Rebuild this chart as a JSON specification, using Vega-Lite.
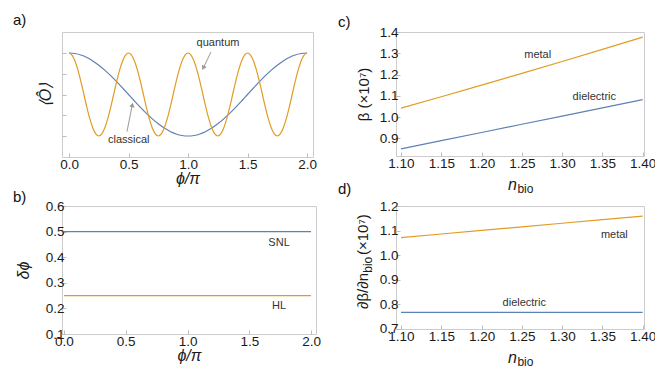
{
  "$schema": "https://vega.github.io/schema/vega-lite/v6.json",
  "background": "white",
  "padding": {"left": 12, "top": 12, "right": 0, "bottom": 0},
  "autosize": {"type": "pad"},
  "columns": 2,
  "bounds": "flush",
  "align": "all",
  "spacing": {"row": 46, "column": 80},
  "datasets": {
    "aq": [{"x":0,"y":1},{"x":0.025,"y":0.9511},{"x":0.05,"y":0.809},{"x":0.075,"y":0.5878},{"x":0.1,"y":0.309},{"x":0.125,"y":0},{"x":0.15,"y":-0.309},{"x":0.175,"y":-0.5878},{"x":0.2,"y":-0.809},{"x":0.225,"y":-0.9511},{"x":0.25,"y":-1},{"x":0.275,"y":-0.9511},{"x":0.3,"y":-0.809},{"x":0.325,"y":-0.5878},{"x":0.35,"y":-0.309},{"x":0.375,"y":0},{"x":0.4,"y":0.309},{"x":0.425,"y":0.5878},{"x":0.45,"y":0.809},{"x":0.475,"y":0.9511},
      {"x":0.5,"y":1},{"x":0.525,"y":0.9511},{"x":0.55,"y":0.809},{"x":0.575,"y":0.5878},{"x":0.6,"y":0.309},{"x":0.625,"y":0},{"x":0.65,"y":-0.309},{"x":0.675,"y":-0.5878},{"x":0.7,"y":-0.809},{"x":0.725,"y":-0.9511},{"x":0.75,"y":-1},{"x":0.775,"y":-0.9511},{"x":0.8,"y":-0.809},{"x":0.825,"y":-0.5878},{"x":0.85,"y":-0.309},{"x":0.875,"y":0},{"x":0.9,"y":0.309},{"x":0.925,"y":0.5878},{"x":0.95,"y":0.809},{"x":0.975,"y":0.9511},
      {"x":1,"y":1},{"x":1.025,"y":0.9511},{"x":1.05,"y":0.809},{"x":1.075,"y":0.5878},{"x":1.1,"y":0.309},{"x":1.125,"y":0},{"x":1.15,"y":-0.309},{"x":1.175,"y":-0.5878},{"x":1.2,"y":-0.809},{"x":1.225,"y":-0.9511},{"x":1.25,"y":-1},{"x":1.275,"y":-0.9511},{"x":1.3,"y":-0.809},{"x":1.325,"y":-0.5878},{"x":1.35,"y":-0.309},{"x":1.375,"y":0},{"x":1.4,"y":0.309},{"x":1.425,"y":0.5878},{"x":1.45,"y":0.809},{"x":1.475,"y":0.9511},
      {"x":1.5,"y":1},{"x":1.525,"y":0.9511},{"x":1.55,"y":0.809},{"x":1.575,"y":0.5878},{"x":1.6,"y":0.309},{"x":1.625,"y":0},{"x":1.65,"y":-0.309},{"x":1.675,"y":-0.5878},{"x":1.7,"y":-0.809},{"x":1.725,"y":-0.9511},{"x":1.75,"y":-1},{"x":1.775,"y":-0.9511},{"x":1.8,"y":-0.809},{"x":1.825,"y":-0.5878},{"x":1.85,"y":-0.309},{"x":1.875,"y":0},{"x":1.9,"y":0.309},{"x":1.925,"y":0.5878},{"x":1.95,"y":0.809},{"x":1.975,"y":0.9511},{"x":2,"y":1}],
    "ac": [{"x":0,"y":1},{"x":0.05,"y":0.9877},{"x":0.1,"y":0.9511},{"x":0.15,"y":0.891},{"x":0.2,"y":0.809},{"x":0.25,"y":0.7071},{"x":0.3,"y":0.5878},{"x":0.35,"y":0.454},{"x":0.4,"y":0.309},{"x":0.45,"y":0.1564},{"x":0.5,"y":0},{"x":0.55,"y":-0.1564},{"x":0.6,"y":-0.309},{"x":0.65,"y":-0.454},{"x":0.7,"y":-0.5878},{"x":0.75,"y":-0.7071},{"x":0.8,"y":-0.809},{"x":0.85,"y":-0.891},{"x":0.9,"y":-0.9511},{"x":0.95,"y":-0.9877},{"x":1,"y":-1},{"x":1.05,"y":-0.9877},{"x":1.1,"y":-0.9511},{"x":1.15,"y":-0.891},{"x":1.2,"y":-0.809},{"x":1.25,"y":-0.7071},{"x":1.3,"y":-0.5878},{"x":1.35,"y":-0.454},{"x":1.4,"y":-0.309},{"x":1.45,"y":-0.1564},{"x":1.5,"y":0},{"x":1.55,"y":0.1564},{"x":1.6,"y":0.309},{"x":1.65,"y":0.454},{"x":1.7,"y":0.5878},{"x":1.75,"y":0.7071},{"x":1.8,"y":0.809},{"x":1.85,"y":0.891},{"x":1.9,"y":0.9511},{"x":1.95,"y":0.9877},{"x":2,"y":1}],
    "b": [{"x":0,"y":0.5,"series":"SNL"},{"x":2,"y":0.5,"series":"SNL"},{"x":0,"y":0.25,"series":"HL"},{"x":2,"y":0.25,"series":"HL"}],
    "c": [{"x":1.10,"y":0.850,"material":"dielectric"},{"x":1.15,"y":0.8888,"material":"dielectric"},{"x":1.20,"y":0.9275,"material":"dielectric"},{"x":1.25,"y":0.9663,"material":"dielectric"},{"x":1.30,"y":1.005,"material":"dielectric"},{"x":1.35,"y":1.0438,"material":"dielectric"},{"x":1.40,"y":1.0825,"material":"dielectric"},
      {"x":1.10,"y":1.042,"material":"metal"},{"x":1.15,"y":1.096,"material":"metal"},{"x":1.20,"y":1.1507,"material":"metal"},{"x":1.25,"y":1.2061,"material":"metal"},{"x":1.30,"y":1.2623,"material":"metal"},{"x":1.35,"y":1.3193,"material":"metal"},{"x":1.40,"y":1.3769,"material":"metal"}],
    "d": [{"x":1.10,"y":0.766,"material":"dielectric"},{"x":1.40,"y":0.766,"material":"dielectric"},
      {"x":1.10,"y":1.071,"material":"metal"},{"x":1.15,"y":1.0857,"material":"metal"},{"x":1.20,"y":1.1003,"material":"metal"},{"x":1.25,"y":1.115,"material":"metal"},{"x":1.30,"y":1.1297,"material":"metal"},{"x":1.35,"y":1.1443,"material":"metal"},{"x":1.40,"y":1.159,"material":"metal"}]
  },
  "concat": [
    {
      "width": 251, "height": 125,
      "title": {"text": "a)", "anchor": "start", "frame": "group", "baseline": "bottom", "dx": -49, "offset": -11},
      "layer": [
        {"data": {"name": "ac"}, "mark": {"type": "line", "color": "#5E81B5", "strokeWidth": 1.2, "interpolate": "monotone"},
         "encoding": {
           "x": {"field": "x", "type": "quantitative", "scale": {"domain": [-0.059, 2.05], "nice": false, "zero": false},
                 "axis": {"values": [0, 0.5, 1, 1.5, 2], "tickCount": 20, "format": ".1f", "title": "ϕ/π", "titleFontStyle": "italic", "titleFontSize": 16, "labelPadding": 4, "titlePadding": 0}},
           "y": {"field": "y", "type": "quantitative", "scale": {"domain": [-1.506, 1.506], "nice": false, "zero": false},
                 "axis": {"values": [-1, -0.5, 0, 0.5, 1], "tickCount": 20, "labels": false, "title": "⟨Ô⟩", "titleFontStyle": "italic", "titleFontSize": 16, "titlePadding": 8}}
         }},
        {"data": {"name": "aq"}, "mark": {"type": "line", "color": "#E19C24", "strokeWidth": 1.2, "interpolate": "monotone"},
         "encoding": {"x": {"field": "x", "type": "quantitative"}, "y": {"field": "y", "type": "quantitative"}}},
        {"mark": {"type": "rule", "color": "#9a9a9a", "strokeWidth": 1.2},
         "encoding": {"y": {"datum": 0, "type": "quantitative"}}},
        {"data": {"values": [{"x": 1.193, "y": 1.024, "x2": 1.135, "y2": 0.68}, {"x": 0.487, "y": -0.896, "x2": 0.528, "y2": -0.3}]},
         "mark": {"type": "rule", "color": "#999999", "strokeWidth": 1},
         "encoding": {"x": {"field": "x", "type": "quantitative"}, "y": {"field": "y", "type": "quantitative"}, "x2": {"field": "x2"}, "y2": {"field": "y2"}}},
        {"data": {"values": [{"x": 1.128, "y": 0.64}]},
         "mark": {"type": "point", "shape": "triangle-up", "filled": true, "color": "#999999", "opacity": 1, "size": 28, "angle": 206},
         "encoding": {"x": {"field": "x", "type": "quantitative"}, "y": {"field": "y", "type": "quantitative"}}},
        {"data": {"values": [{"x": 0.532, "y": -0.25}]},
         "mark": {"type": "point", "shape": "triangle-up", "filled": true, "color": "#999999", "opacity": 1, "size": 28, "angle": 11},
         "encoding": {"x": {"field": "x", "type": "quantitative"}, "y": {"field": "y", "type": "quantitative"}}},
        {"data": {"values": [{"x": 1.252, "y": 1.241, "label": "quantum"}, {"x": 0.502, "y": -1.096, "label": "classical"}]},
         "mark": {"type": "text", "fontSize": 11, "color": "#333333", "baseline": "middle"},
         "encoding": {"x": {"field": "x", "type": "quantitative"}, "y": {"field": "y", "type": "quantitative"}, "text": {"field": "label"}}}
      ]
    },
    {
      "width": 248, "height": 124,
      "title": {"text": "c)", "anchor": "start", "frame": "group", "baseline": "bottom", "dx": -58, "offset": -20},
      "layer": [
        {"data": {"name": "c"}, "mark": {"type": "line", "strokeWidth": 1.2},
         "encoding": {
           "x": {"field": "x", "type": "quantitative", "scale": {"domain": [1.0938, 1.4016], "nice": false, "zero": false},
                 "axis": {"values": [1.1, 1.15, 1.2, 1.25, 1.3, 1.35, 1.4], "tickCount": 20, "format": ".2f", "title": null, "labelPadding": 4}},
           "y": {"field": "y", "type": "quantitative", "scale": {"domain": [0.8165, 1.4014], "nice": false, "zero": false},
                 "axis": {"values": [0.9, 1.0, 1.1, 1.2, 1.3, 1.4], "tickCount": 20, "format": ".1f", "title": "β (×10⁷)", "titleFontSize": 15, "titlePadding": 8, "labelPadding": 2}},
           "color": {"field": "material", "type": "nominal", "scale": {"domain": ["dielectric", "metal"], "range": ["#5E81B5", "#E19C24"]}, "legend": null}
         }},
        {"data": {"values": [{"x": 1.2697, "y": 1.2929, "label": "metal"}, {"x": 1.3399, "y": 1.0934, "label": "dielectric"}]},
         "mark": {"type": "text", "fontSize": 11, "color": "#333333", "baseline": "middle"},
         "encoding": {"x": {"field": "x", "type": "quantitative"}, "y": {"field": "y", "type": "quantitative"}, "text": {"field": "label"}}},
        {"data": {"values": [{"x": 1.244, "y": 0.6797, "label": "n"}]},
         "mark": {"type": "text", "fontSize": 16, "fontStyle": "italic", "color": "#1a1a1a", "align": "right", "baseline": "middle"},
         "encoding": {"x": {"field": "x", "type": "quantitative"}, "y": {"field": "y", "type": "quantitative"}, "text": {"field": "label"}}},
        {"data": {"values": [{"x": 1.2445, "y": 0.6608, "label": "bio"}]},
         "mark": {"type": "text", "fontSize": 12, "color": "#1a1a1a", "align": "left", "baseline": "middle"},
         "encoding": {"x": {"field": "x", "type": "quantitative"}, "y": {"field": "y", "type": "quantitative"}, "text": {"field": "label"}}}
      ]
    },
    {
      "width": 254, "height": 128,
      "title": {"text": "b)", "anchor": "start", "frame": "group", "baseline": "bottom", "dx": -49, "offset": -20.5},
      "layer": [
        {"data": {"name": "b"}, "mark": {"type": "line", "strokeWidth": 1.2},
         "encoding": {
           "x": {"field": "x", "type": "quantitative", "scale": {"domain": [-0.016, 2.04], "nice": false, "zero": false},
                 "axis": {"values": [0, 0.5, 1, 1.5, 2], "tickCount": 20, "format": ".1f", "title": "ϕ/π", "titleFontStyle": "italic", "titleFontSize": 16, "labelPadding": 4, "titlePadding": 0}},
           "y": {"field": "y", "type": "quantitative", "scale": {"domain": [0.1, 0.6], "nice": false, "zero": false},
                 "axis": {"values": [0.1, 0.2, 0.3, 0.4, 0.5, 0.6], "tickCount": 20, "format": ".1f", "title": "δϕ", "titleFontStyle": "italic", "titleFontSize": 16, "titlePadding": 14, "labelPadding": 2}},
           "color": {"field": "series", "type": "nominal", "scale": {"domain": ["SNL", "HL"], "range": ["#5E81B5", "#E19C24"]}, "legend": null}
         }},
        {"data": {"values": [{"x": 1.741, "y": 0.4555, "label": "SNL"}, {"x": 1.741, "y": 0.209, "label": "HL"}]},
         "mark": {"type": "text", "fontSize": 11, "color": "#333333", "baseline": "middle"},
         "encoding": {"x": {"field": "x", "type": "quantitative"}, "y": {"field": "y", "type": "quantitative"}, "text": {"field": "label"}}}
      ]
    },
    {
      "width": 248, "height": 123,
      "title": {"text": "d)", "anchor": "start", "frame": "group", "baseline": "bottom", "dx": -58, "offset": -12.5},
      "layer": [
        {"data": {"name": "d"}, "mark": {"type": "line", "strokeWidth": 1.2},
         "encoding": {
           "x": {"field": "x", "type": "quantitative", "scale": {"domain": [1.0938, 1.4016], "nice": false, "zero": false},
                 "axis": {"values": [1.1, 1.15, 1.2, 1.25, 1.3, 1.35, 1.4], "tickCount": 20, "format": ".2f", "title": null, "labelPadding": 4}},
           "y": {"field": "y", "type": "quantitative", "scale": {"domain": [0.698, 1.2], "nice": false, "zero": false},
                 "axis": {"values": [0.7, 0.8, 0.9, 1.0, 1.1, 1.2], "tickCount": 20, "format": ".1f", "title": null, "labelPadding": 2}},
           "color": {"field": "material", "type": "nominal", "scale": {"domain": ["dielectric", "metal"], "range": ["#5E81B5", "#E19C24"]}, "legend": null}
         }},
        {"data": {"values": [{"x": 1.3648, "y": 1.0804, "label": "metal"}, {"x": 1.253, "y": 0.8053, "label": "dielectric"}]},
         "mark": {"type": "text", "fontSize": 11, "color": "#333333", "baseline": "middle"},
         "encoding": {"x": {"field": "x", "type": "quantitative"}, "y": {"field": "y", "type": "quantitative"}, "text": {"field": "label"}}},
        {"data": {"values": [{"x": 1.244, "y": 0.58, "label": "n"}]},
         "mark": {"type": "text", "fontSize": 16, "fontStyle": "italic", "color": "#1a1a1a", "align": "right", "baseline": "middle"},
         "encoding": {"x": {"field": "x", "type": "quantitative"}, "y": {"field": "y", "type": "quantitative"}, "text": {"field": "label"}}},
        {"data": {"values": [{"x": 1.2445, "y": 0.564, "label": "bio"}]},
         "mark": {"type": "text", "fontSize": 12, "color": "#1a1a1a", "align": "left", "baseline": "middle"},
         "encoding": {"x": {"field": "x", "type": "quantitative"}, "y": {"field": "y", "type": "quantitative"}, "text": {"field": "label"}}},
        {"data": {"values": [{"x": 1.0525, "y": 0.9265, "label": "∂β/∂n"}]},
         "mark": {"type": "text", "fontSize": 15, "color": "#1a1a1a", "angle": 270, "align": "right", "baseline": "middle"},
         "encoding": {"x": {"field": "x", "type": "quantitative"}, "y": {"field": "y", "type": "quantitative"}, "text": {"field": "label"}}},
        {"data": {"values": [{"x": 1.0585, "y": 0.9275, "label": "bio"}]},
         "mark": {"type": "text", "fontSize": 12, "color": "#1a1a1a", "angle": 270, "align": "left", "baseline": "middle"},
         "encoding": {"x": {"field": "x", "type": "quantitative"}, "y": {"field": "y", "type": "quantitative"}, "text": {"field": "label"}}},
        {"data": {"values": [{"x": 1.0525, "y": 1.0, "label": "(×10⁷)"}]},
         "mark": {"type": "text", "fontSize": 15, "color": "#1a1a1a", "angle": 270, "align": "left", "baseline": "middle"},
         "encoding": {"x": {"field": "x", "type": "quantitative"}, "y": {"field": "y", "type": "quantitative"}, "text": {"field": "label"}}}
      ]
    }
  ],
  "config": {
    "view": {"stroke": "#cccccc", "strokeWidth": 1},
    "axis": {"domain": false, "grid": false, "tickColor": "#bdbdbd", "tickSize": -4, "ticks": true, "labelOverlap": false, "labelBound": false, "labelFlush": false,
             "labelFont": "Liberation Sans", "labelFontSize": 13.5, "labelColor": "#1a1a1a",
             "titleFont": "Liberation Sans", "titleFontSize": 15, "titleFontWeight": "normal", "titleColor": "#1a1a1a"},
    "title": {"font": "Liberation Sans", "fontSize": 15, "fontWeight": "normal", "color": "#111111"},
    "text": {"font": "Liberation Sans"}
  }
}
